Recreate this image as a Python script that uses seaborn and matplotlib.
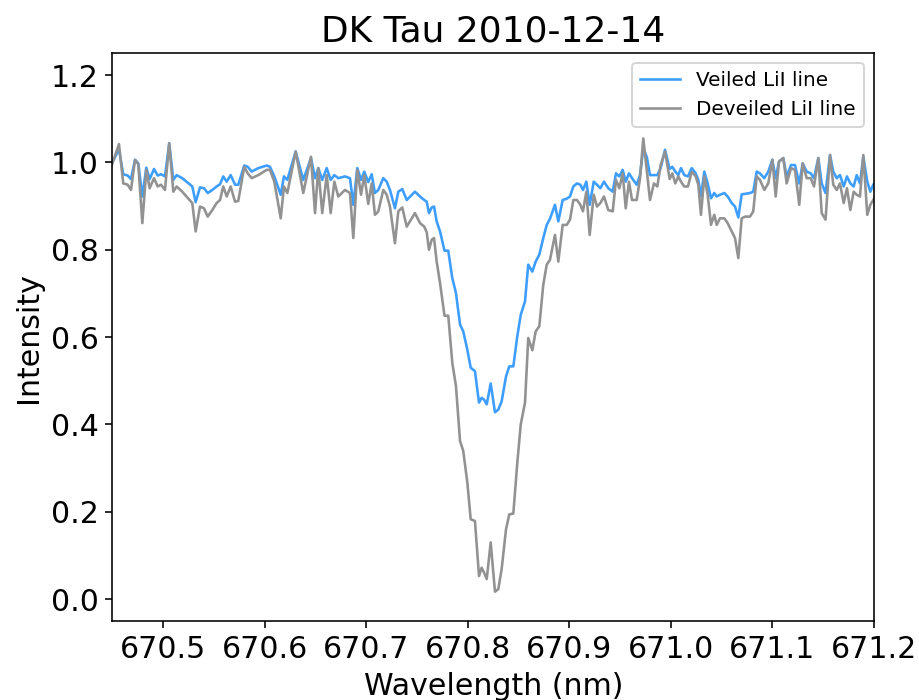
import matplotlib
matplotlib.use("Agg")
import matplotlib.pyplot as plt
import seaborn as sns
import pandas as pd

# Spectrum around the Li I 670.8 nm line, DK Tau, 2010-12-14
wavelength = [
    670.4465, 670.4564, 670.4606, 670.4650, 670.4682, 670.4722, 670.4754, 670.4794,
    670.4833, 670.4866, 670.4909, 670.4945, 670.4978, 670.5017, 670.5059, 670.5099,
    670.5132, 670.5187, 670.5286, 670.5319, 670.5362, 670.5401, 670.5438, 670.5483,
    670.5526, 670.5559, 670.5591, 670.5625, 670.5664, 670.5707, 670.5739, 670.5798,
    670.5832, 670.5871, 670.5936, 670.6019, 670.6051, 670.6094, 670.6157, 670.6189,
    670.6222, 670.6304, 670.6379, 670.6455, 670.6495, 670.6527, 670.6566, 670.6610,
    670.6649, 670.6685, 670.6724, 670.6790, 670.6839, 670.6872, 670.6911, 670.6948,
    670.6980, 670.7019, 670.7053, 670.7085, 670.7118, 670.7167, 670.7201, 670.7233,
    670.7282, 670.7315, 670.7354, 670.7398, 670.7479, 670.7529, 670.7571, 670.7595,
    670.7617, 670.7644, 670.7667, 670.7693, 670.7726, 670.7770, 670.7807, 670.7847,
    670.7883, 670.7923, 670.7955, 670.7995, 670.8028, 670.8070, 670.8110, 670.8136,
    670.8159, 670.8186, 670.8225, 670.8267, 670.8300, 670.8333, 670.8376, 670.8408,
    670.8448, 670.8487, 670.8521, 670.8563, 670.8595, 670.8635, 670.8668, 670.8704,
    670.8743, 670.8777, 670.8809, 670.8858, 670.8891, 670.8934, 670.8974, 670.9006,
    670.9039, 670.9075, 670.9108, 670.9134, 670.9167, 670.9200, 670.9240, 670.9272,
    670.9305, 670.9341, 670.9383, 670.9427, 670.9459, 670.9492, 670.9525, 670.9555,
    670.9587, 670.9617, 670.9663, 670.9696, 670.9728, 670.9762, 670.9794, 670.9833,
    670.9866, 670.9899, 670.9942, 670.9988, 671.0014, 671.0043, 671.0073, 671.0099,
    671.0132, 671.0168, 671.0205, 671.0244, 671.0270, 671.0296, 671.0329, 671.0362,
    671.0395, 671.0427, 671.0451, 671.0483, 671.0526, 671.0559, 671.0599, 671.0631,
    671.0664, 671.0697, 671.0730, 671.0779, 671.0811, 671.0845, 671.0877, 671.0920,
    671.0959, 671.0999, 671.1032, 671.1065, 671.1107, 671.1140, 671.1183, 671.1222,
    671.1264, 671.1298, 671.1337, 671.1377, 671.1409, 671.1452, 671.1485, 671.1523,
    671.1567, 671.1599, 671.1633, 671.1665, 671.1702, 671.1734, 671.1767, 671.1800,
    671.1830, 671.1862, 671.1895, 671.1934, 671.1964, 671.1993, 671.2030,
]

veiled = [
    0.985, 1.030, 0.973, 0.970, 0.962, 1.006, 0.998, 0.922,
    0.988, 0.962, 0.985, 0.970, 0.973, 0.968, 1.044, 0.960,
    0.971, 0.964, 0.945, 0.909, 0.943, 0.941, 0.930, 0.937,
    0.945, 0.950, 0.968, 0.956, 0.971, 0.949, 0.949, 0.993,
    0.990, 0.979, 0.987, 0.993, 0.990, 0.968, 0.926, 0.968,
    0.960, 1.025, 0.960, 1.010, 0.964, 0.987, 0.960, 0.987,
    0.960, 0.971, 0.964, 0.968, 0.964, 0.903, 0.987, 0.960,
    0.979, 0.955, 0.973, 0.930, 0.937, 0.964, 0.956, 0.937,
    0.895, 0.933, 0.939, 0.914, 0.933, 0.922, 0.914, 0.910,
    0.884, 0.897, 0.899, 0.865, 0.842, 0.798, 0.798, 0.735,
    0.701, 0.629, 0.613, 0.571, 0.530, 0.522, 0.450, 0.461,
    0.457, 0.446, 0.494, 0.428, 0.434, 0.453, 0.510, 0.533,
    0.533, 0.602, 0.651, 0.682, 0.766, 0.750, 0.773, 0.789,
    0.827, 0.857, 0.871, 0.903, 0.865, 0.914, 0.917, 0.922,
    0.945, 0.952, 0.949, 0.937, 0.956, 0.903, 0.956, 0.949,
    0.941, 0.956, 0.941, 0.933, 0.975, 0.968, 0.983, 0.956,
    0.975, 0.964, 0.949, 0.971, 1.032, 1.013, 0.971, 0.971,
    0.971, 0.987, 1.029, 0.985, 0.990, 0.979, 0.971, 0.987,
    0.971, 0.968, 0.987, 0.975, 0.960, 0.922, 0.979, 0.952,
    0.918, 0.930, 0.922, 0.926, 0.930, 0.922, 0.907, 0.899,
    0.874, 0.927, 0.928, 0.930, 0.933, 0.979, 0.975, 0.964,
    0.979, 1.006, 0.964, 1.002, 1.010, 0.968, 0.994, 0.994,
    0.952, 0.998, 0.979, 0.975, 0.964, 1.010, 0.952, 0.930,
    1.017, 0.979, 0.964, 0.971, 0.945, 0.968, 0.952, 0.945,
    0.971, 0.952, 1.013, 0.956, 0.933, 0.949, 0.960,
]

deveiled = [
    0.975, 1.042, 0.952, 0.949, 0.937, 1.006, 0.996, 0.861,
    0.983, 0.941, 0.964, 0.945, 0.949, 0.937, 1.044, 0.933,
    0.945, 0.933, 0.907, 0.842, 0.899, 0.895, 0.876, 0.891,
    0.907, 0.914, 0.945, 0.922, 0.945, 0.910, 0.912, 0.990,
    0.975, 0.964, 0.971, 0.983, 0.983, 0.956, 0.872, 0.945,
    0.930, 1.025, 0.930, 1.013, 0.884, 0.987, 0.884, 0.971,
    0.884, 0.956, 0.922, 0.937, 0.930, 0.827, 0.983, 0.926,
    0.971, 0.905, 0.952, 0.880, 0.888, 0.937, 0.926, 0.899,
    0.815, 0.888, 0.897, 0.853, 0.884, 0.861, 0.853, 0.840,
    0.800, 0.823, 0.827, 0.773, 0.724, 0.649, 0.649, 0.541,
    0.488, 0.362, 0.339, 0.267, 0.183, 0.179, 0.053, 0.072,
    0.061, 0.046, 0.130, 0.017, 0.023, 0.069, 0.160, 0.194,
    0.196, 0.312, 0.400, 0.450, 0.598, 0.570, 0.613, 0.625,
    0.720, 0.766, 0.777, 0.834, 0.773, 0.857, 0.857, 0.869,
    0.914, 0.914, 0.903, 0.888, 0.933, 0.834, 0.926, 0.899,
    0.907, 0.922, 0.891, 0.888, 0.960, 0.941, 0.975, 0.895,
    0.956, 0.914, 0.914, 0.964, 1.055, 0.983, 0.914, 0.952,
    0.945, 0.994, 1.025, 0.962, 0.975, 0.952, 0.968, 0.956,
    0.945, 0.945, 0.979, 0.968, 0.949, 0.880, 0.968, 0.926,
    0.857, 0.880, 0.857, 0.872, 0.872, 0.861, 0.842, 0.827,
    0.781, 0.872, 0.876, 0.876, 0.888, 0.968, 0.960, 0.937,
    0.952, 1.006, 0.922, 1.002, 1.010, 0.952, 0.987, 0.983,
    0.903, 0.998, 0.964, 0.964, 0.945, 1.010, 0.884, 0.869,
    1.017, 0.949, 0.937, 0.952, 0.907, 0.941, 0.891, 0.933,
    0.926, 0.922, 1.017, 0.880, 0.903, 0.914, 0.930,
]

x_ticks = [670.5, 670.6, 670.7, 670.8, 670.9, 671.0, 671.1, 671.2]
y_ticks = [0.0, 0.2, 0.4, 0.6, 0.8, 1.0, 1.2]

df = pd.DataFrame({"wavelength": wavelength, "veiled": veiled, "deveiled": deveiled})

fig = plt.figure(figsize=(919 / 144, 700 / 144), dpi=144)
ax = fig.add_axes([0.1224, 0.1129, 0.951 - 0.1224, 0.9239 - 0.1129])

sns.lineplot(data=df, x="wavelength", y="veiled", ax=ax, color="#3d9eff",
             linewidth=1.3, label="Veiled LiI line", sort=False)
sns.lineplot(data=df, x="wavelength", y="deveiled", ax=ax, color="#929292",
             linewidth=1.3, label="Deveiled LiI line", sort=False)

ax.set_xlim(670.45, 671.2)
ax.set_ylim(-0.05, 1.25)
ax.set_xticks(x_ticks)
ax.set_xticklabels([f"{v:.1f}" for v in x_ticks])
ax.set_yticks(y_ticks)
ax.set_yticklabels([f"{v:.1f}" for v in y_ticks])
ax.tick_params(labelsize=15)

ax.set_title("DK Tau 2010-12-14", fontsize=18)
ax.set_xlabel("Wavelength (nm)", fontsize=15)
ax.set_ylabel("Intensity", fontsize=15)
ax.legend(loc="upper right", fontsize=10)

fig.savefig("out.png", dpi=144)
